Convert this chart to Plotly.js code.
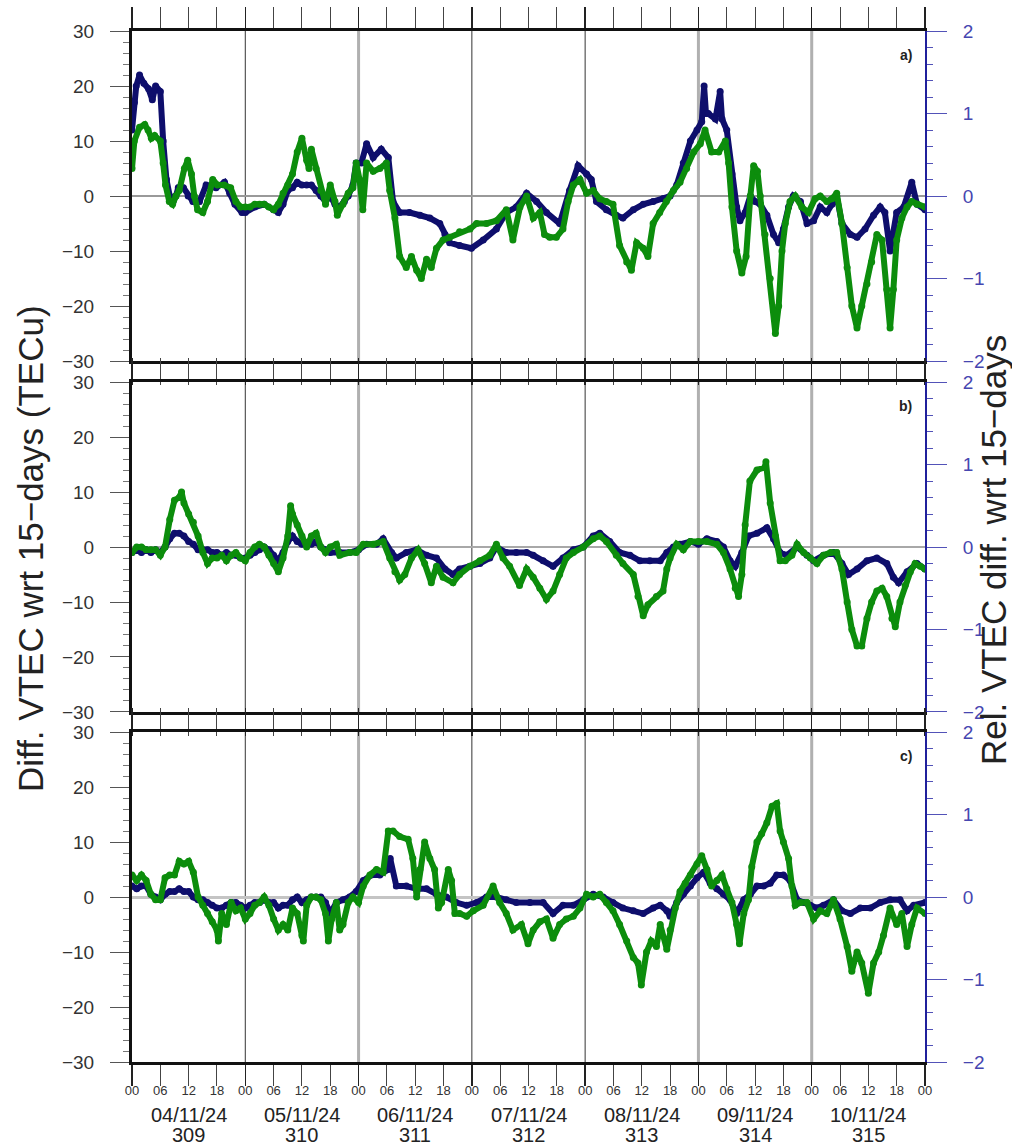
<!DOCTYPE html>
<html>
<head>
<meta charset="utf-8">
<script src="https://cdn.plot.ly/plotly-3.0.1.min.js"></script>
<style>
html,body{margin:0;padding:0;background:#fff;}
#chart{width:1012px;height:1147px;}
</style>
</head>
<body>
<div id="chart"></div>
<script>
// ---- categories / tick labels ----
const dayDates = ['04/11/24','05/11/24','06/11/24','07/11/24','08/11/24','09/11/24','10/11/24'];
const dayNumbers = ['309','310','311','312','313','314','315'];
const hourLabels = ['00','06','12','18'];
const panelLabels = ['a)','b)','c)'];

// ---- panel a ----
const aNavyHours = [0,0.5,0.9,1.6,2.5,3.5,4.3,5,6,6.6,7.3,8,8.7,9.3,9.8,10.9,11.9,12.9,14.3,15.7,17.8,19.6,20.7,21.8,23.3,
 24,26,28,30,31,32,33,34,35,36,37,38,39,40,41,42,43,44,45,45.8,46.8,47.5,48.6,49.7,51.1,52.8,54.3,55.3,56.7,58.8,61,63.1,65.2,66.3,67.3,69.4,71.9,74.4,77.2,79.3,81.4,83.6,85.7,87.8,90.6,92.7,94.5,96.3,97.3,98.4,100.5,102.6,104,106.2,108.3,110.4,112.5,114,115.4,116.8,118.3,119.7,120.7,121.2,121.6,122.1,123.6,124.6,125,126,127.1,128.1,128.8,129.9,131,132,133.1,134.5,135.9,137,138,139.1,140.1,141.6,143,144.4,145.8,147.2,148.3,149.3,150.4,152.2,153.6,155.3,157.1,158.5,159.5,160.6,162,163.5,165.2,166.3,168];
const aNavyTEC = [12,17,20,22,20.5,19.5,17.5,20,19,10,3,0,-1,0,1.5,1.5,0,-1,-1,2,1.5,2.5,0.5,-1.5,-3,
 -3,-2,-1.5,-2.5,-3,-1.5,1,1.5,2.5,2,2,2,1,0,-1,0,-1.5,-2,-1,0,2,6,6,9.5,7,8.5,7,-1,-3,-3,-3.5,-4,-5,-7,-8.5,-9,-9.5,-8,-6,-3,-2,0.5,-1,-3,-5,1,5.5,4,3,-1,-2.5,-3.5,-4,-2.5,-1.5,-1,-0.5,0,2,6,10,12,13.5,20,15,15,14,19,14,12,4,-2,-4.5,-3,0,-1,-1.5,-3.5,-7,-8.5,-6,-2,0,-1,-5,-4.5,-2,-3,-1.5,0,-5,-7,-7.5,-6,-3.5,-2,-3,-10,-3,-2,2.5,-1.5,-2.5];
const aGreenHours = [0,0.5,1.6,2.7,3.4,4.1,4.8,6,6.6,7.1,7.9,8.6,9.3,10,11.1,11.8,12.6,13.2,13.9,15,16,17.1,18.1,19.5,20.9,22,23,
 24,25,26,27,28,29,30,31,32,33,34,35,36,37,37.5,38,39,40,41,42,43,43.5,44.7,45.8,46.8,47.5,48.2,48.9,49.7,51.1,52.5,53.9,54.6,55.7,56.7,58.1,59.2,60.3,61.3,62.4,63.4,64.5,65.9,67.3,69.4,71.6,73,75.1,77.2,79.3,80.7,82.2,83.6,85,86.4,87.4,88.5,89.9,91.3,92.4,93.5,94.9,96.3,97.7,99.1,100.5,101.9,103.3,104.8,105.8,106.9,108.3,109.3,110.4,111.8,113.2,114.7,116.1,117.5,119,120.4,121.4,122.8,124.3,125.7,126.4,127.1,128.1,129.2,130.1,131,131.7,132.5,133.1,134.1,135.2,136.3,137,137.7,138.4,139.4,140.5,141.9,143.3,144.7,145.8,147.2,148.3,149.3,150.4,151.5,152.5,153.6,154.6,155.7,156.7,157.8,158.9,159.9,160.6,161.3,162,163.1,164.2,165.2,166.3,168];
const aGreenTEC = [5,10,12.5,13,12,10.5,11,10,6,2,-1,-1.5,0,1,5,6.5,4,0,-2.5,-3,-1,3,2,2,1.5,-1,-2,
 -2,-2,-1.5,-1.5,-1.5,-2,-2.5,-1.5,0.5,2,4,8,10.5,6.5,5,8.5,5,1,-1.5,2,-1,-3.5,-1.5,0.5,1.5,6,3,-2.5,6,4.5,5,6,1,-4,-11,-13,-11,-13.5,-15,-11.5,-13,-9.5,-8,-7.5,-6.5,-6,-5,-5,-4.5,-2.5,-8,-2,0,-4,-3,-7,-7.5,-7.5,-6,-1,2,3,0.5,1,-0.5,-1,-1.5,-9,-12,-13.5,-8.5,-9.5,-11,-5,-3,-1,1,2.5,5,8,9.5,12,8,8,10,6,-2,-10,-14,-11,0,5.5,4.5,0,-7,-15,-25,-20,-10,-5,-1,0,-2,-3,-0.5,0,-1,-0.5,0.5,-5,-13,-20,-24,-20,-16,-12,-7,-8,-17,-24,-17,-8,-4,-2,-1,-1.5,-2];

// ---- panel b ----
const bNavyHours = [0,1,2,3,4,5,6,7,8,9,10,11,12,13,14,15,16,17,18,19,20,21,22,23,24,25,26,27,28,29,30,31,32,33,34,35,36,37,38,39,40,41,42,44,46.1,48,49.7,51.8,53.2,55,56,58.1,60.3,62.4,64.5,66.3,68,69.4,71.6,73.7,75.8,77.2,79.3,81.4,83.6,85,87.1,89.2,91.3,93.5,95.6,97.7,99.1,101.2,103.3,105.5,107.6,109.7,111.9,113.3,114.7,116.1,118.3,120,121.8,123.9,125.3,126.7,127.8,129.2,130.6,132.4,134.5,135.9,137.3,138.7,140.9,143,144.4,146.5,148.6,150.4,151.8,153.6,155.7,157.8,159.9,161.3,162.4,164.2,166.3,168];
const bNavyTEC = [-1,-0.5,-1,-0.5,-1,-0.5,-1,0,1.5,2.5,2.5,2,1,0.5,-0.5,-0.5,-0.5,-1,-1,-1.5,-1,-1.5,-1.5,-2,-2,-1.5,-1,-0.5,0,-0.5,-1.5,-2.5,-1,1,2,1,0.5,0.5,0.5,1,0,-0.5,-1,-1,-1,-0.5,0.5,0.5,1.5,-1,-2,-1,-0.5,-1.5,-2,-4,-5,-4,-3.5,-3,-2,0,-1,-1,-1,-1.5,-2.5,-3.5,-2,-0.5,0,2,2.5,1,-1,-1.5,-2.5,-2.5,-2.5,-1,0,0.5,1,0.5,1.5,1,0,-2.5,-3.5,-1,2,2.5,3.5,1.5,-1,-1.5,0,-1.5,-2.5,-1.5,-1,-3,-5,-4,-2.5,-2,-3,-5.5,-6.5,-4.5,-3,-4];
const bGreenHours = [0,1,2,3,4,5,6,7,8,9,10,10.5,11,12,13,14,15,16,17,18,19,20,21,22,23,24,25,26,27,28,29,30,31,32,33,33.6,34,35,36,37,38,39,40,41,42,43.3,44,46.1,47.5,49,51.1,53.2,54.6,55.7,56.7,57.8,59.2,60.6,62,63.4,64.5,65.9,68,69.4,71.6,73.7,75.8,77.2,78.6,80,82.1,83.6,85,86.4,87.8,89.2,90.6,92,93.5,95.6,97.7,99.1,100.5,102.6,104,106.2,107.2,108.3,109.3,111.1,112.5,113.3,114,115.4,116.8,118.3,120,121.8,123.9,125.3,126.7,127.8,128.5,129.2,129.9,130.9,132.4,134.1,134.3,135.2,136.3,137.3,138.4,139.8,140.9,142.3,143.7,145.1,146.5,148,149.3,150.4,151.5,152.5,153.6,154.6,155.7,156.7,157.8,158.9,159.9,161,161.7,162.7,163.8,164.9,165.9,167,168];
const bGreenTEC = [-1,0,0,-0.5,-0.5,-0.5,-1.5,0,5,8.5,9,10,8,6,4.5,2,-1,-3,-2,-2,-1.5,-2.5,-1.5,-1,-2,-2.5,-1,0,0.5,0,-1.5,-3,-4.5,-2,2,7.5,6,4,2,0,2,2.5,0,-1,0,0.5,-1.5,-1,-1,0.5,0.5,1,-2,-4.5,-6,-5,-2,-0.5,-3,-6.5,-3.5,-5.5,-6.5,-5,-3.5,-2.5,-1.5,0.5,-2,-3.5,-7,-4,-5.5,-7.5,-9.5,-8,-5,-2,-1,0,1.5,2,1,-1.5,-3,-5,-9,-12.5,-10.5,-9,-8,-4,-2,0.5,-0.5,1,1,1,0.5,-1,-4,-7.5,-9,-5,4,12,14,14.5,15.5,8,2,-2.5,-2.5,-1.5,0.5,-1,-2,-3,-1.5,-1,-1,-4,-10,-15,-18,-18,-13,-10,-8,-7.5,-9,-13,-14.5,-10,-7,-4.5,-3,-3.5,-4];

// ---- panel c ----
const cNavyHours = [0,1,2,3,4,5,6,7,8,9,10,11,12,13,14,15,16,17,18,19,20,21,22,23,24,25,26,27,28,29,30,31,32,33,34,35,36,37,38,39,40,41,42,43.3,44.7,46.1,47.5,49,50.7,52.5,54.3,54.7,56,58.1,60.3,62.4,64.5,66.6,68.7,70.9,73,75.1,77.2,79.3,81.4,84.3,87.1,89.2,91.3,93.5,95.6,97.7,99.8,101.9,104,106.2,108.3,110.4,111.9,113.3,114,115.4,116.8,118.3,119.7,121.1,122.5,123.9,125.3,126.7,128.1,129.6,131,132.4,133.8,135.2,136.6,138,139.4,140.9,142.3,143.7,145.1,146.5,148.6,150.4,152.2,154.3,156.4,158.5,160.6,162.7,164.2,165.6,168];
const cNavyTEC = [2,1.5,2,2,0.5,0,-0.5,0.5,1,1,1.5,1,1,0,-0.5,-0.5,-1,-1.5,-2,-2,-1.5,-1,-1,-1.5,-2,-1.5,-1,-1,-0.5,-1,-1,-2,-1.5,-1.5,-0.5,0,-1,-0.5,0,0,0,-1,-3,-1,-0.5,0,1,3,4,4,5,7,2,2,1.5,1.5,0.5,0,-1,-1.5,-1,0,0,-0.5,-1,-1,-1,-3,-1.5,-1.5,-0.5,0.5,0,-1,-2,-2.5,-3,-2,-1.5,-2.5,-3.5,-1,0.5,2,3.5,4.5,2.5,1.5,0.5,-0.5,-3,-0.5,0.5,2,2,2.5,4,4,3,-0.5,-1,-1.5,-2,-1.5,-0.5,-2.5,-3,-2,-2,-1,-0.5,-0.5,-2.5,-1.5,-1];
const cGreenHours = [0,1,2,3,4,5,6,7,8,9,10,11,12,13,14,15,16,17,18,18.3,19,20,21,22,23,24,25,26,27,28,29,30,31,32,33,34,35,36,36.3,37,38,39,40,41,41.6,42.3,43.3,44,44.7,45.8,46.8,48,49,50.4,51.8,53.2,54.3,55.3,56.7,58.5,59.5,60.3,61,62,63.1,64.1,64.9,65.6,67,67.7,68.4,69.4,70.9,72.3,74.4,76.5,77.9,79.3,80.7,82.5,83.9,85,86.4,87.8,89.2,90.6,92,93.5,94.9,96.3,97.7,99.1,100.5,101.9,103.3,104.8,106.2,107.2,107.9,109,110,111.1,111.9,113.3,114,115.1,116.1,117.2,118.3,119.7,120.7,121.8,122.8,123.9,125,126,127.1,128.1,128.7,129.6,130.6,131.3,132.4,133.4,134.5,135.6,136.6,137.3,138,139.1,139.8,140.5,141.6,143,144.4,145.8,147.2,148.6,150,151.5,152.5,153.6,154.6,156,157.1,158.2,159.2,160.6,162,163.1,164.2,165.2,166.3,168];
const cGreenTEC = [4,3,4,3,0.5,-0.5,-0.5,3.5,4,4,6.5,6,6.5,4.5,0,-1.5,-3,-4.5,-6,-8,-3,-5,-1,-2.5,-2,-4,-3,-1.5,-1,0,-1.5,-4,-6,-5,-6,-2,-3,-7,-8,-1.5,0,0,-0.5,-3,-8,-4,-1,-6,-5,-1,0,-1,2,4,5,4.5,12,12,11,10.5,7,0,5,10,7,5,-2,-1,5,3,-3,-3,-3.5,-2.5,-1.5,2,-1,-3,-6,-5,-8.5,-6,-4.5,-4,-7.5,-5,-4,-3.5,-2,0.5,0,0.5,-1,-2.5,-5,-8,-11,-12,-16,-10,-8,-9,-5,-9.5,-6,-2,1,2.5,4,6,7.5,5,2,3,4,1.5,-1,-5,-8.5,-3,-0.5,5.5,10,11.5,13.5,16.5,17,12,10,7,2,-1.5,-1,-1,-4,-2.5,-3,-0.5,-4,-9,-13.5,-10,-12,-17.5,-12,-10,-7,-2,-5,-3,-9,-5,-2,-3];

// ---- styling ----
const NAVY = '#0e0e6c';
const GREEN = '#0c8d0c';
const FONT = 'Liberation Sans, Arial, Helvetica, sans-serif';
const dayBounds = [0,24,48,72,96,120,144,168];
const innerDayStyle = [null,'dark','grey','dark','dark','grey','grey',null];

const panels = [
  {navyT:aNavyHours, navyV:aNavyTEC, greenT:aGreenHours, greenV:aGreenTEC, zc:'#999999', zw:1.5},
  {navyT:bNavyHours, navyV:bNavyTEC, greenT:bGreenHours, greenV:bGreenTEC, zc:'#a8a8a8', zw:2},
  {navyT:cNavyHours, navyV:cNavyTEC, greenT:cGreenHours, greenV:cGreenTEC, zc:'#c4c4c4', zw:3}
];
const domains = [[0.6799,1],[0.3395,0.6595],[0,0.32]];

const traces = [];
const layout = {
  width:1012, height:1147,
  margin:{l:132, r:87, t:31, b:85},
  paper_bgcolor:'#fff', plot_bgcolor:'#fff',
  showlegend:false,
  font:{family:FONT, color:'#333'},
  shapes:[], annotations:[]
};

panels.forEach((p, i) => {
  const n = i + 1;
  const xs = n === 1 ? '' : String(n);
  const xa = 'x' + xs, ya = 'y' + xs;
  traces.push({x:p.navyT, y:p.navyV, xaxis:xa, yaxis:ya, type:'scatter', mode:'lines+markers',
    line:{color:NAVY, width:6}, marker:{color:NAVY, size:7}, hoverinfo:'skip'});
  traces.push({x:p.greenT, y:p.greenV, xaxis:xa, yaxis:ya, type:'scatter', mode:'lines+markers',
    line:{color:GREEN, width:6}, marker:{color:GREEN, size:7}, hoverinfo:'skip'});

  layout['xaxis' + xs] = {
    domain:[0,1], anchor:ya, range:[0,168], showgrid:false, zeroline:false,
    showline:true, linecolor:'#111', linewidth:3, mirror:'allticks',
    tickmode:'array', tickvals:dayBounds, ticks:'outside', ticklen:21, tickwidth:1.5, tickcolor:'#222',
    minor:{dtick:6, tick0:0, ticks:'outside', ticklen:8, tickwidth:1, tickcolor:'#444'},
    showticklabels:false, fixedrange:true
  };
  layout['yaxis' + xs] = {
    domain:domains[i], anchor:xa, range:[-30,30], showgrid:false,
    zeroline:true, zerolinecolor:p.zc, zerolinewidth:p.zw,
    showline:true, linecolor:'#111', linewidth:3, mirror:false,
    tickmode:'array', tickvals:[-30,-20,-10,0,10,20,30], ticks:'outside', ticklen:19, tickwidth:1, tickcolor:'#555',
    minor:{dtick:2, ticks:'outside', ticklen:6, tickwidth:1, tickcolor:'#777'},
    tickfont:{size:19, color:'#333', family:FONT}, ticklabelstandoff:12, fixedrange:true
  };
  // right relative axis
  const rs = String(n + 3);
  layout['yaxis' + rs] = {
    overlaying:ya, anchor:xa, side:'right', range:[-2,2], showgrid:false, zeroline:false,
    showline:true, linecolor:'#20209c', linewidth:2,
    tickmode:'array', tickvals:[-2,-1,0,1,2], ticks:'outside', ticklen:20, tickwidth:1, tickcolor:'#5252b8',
    minor:{dtick:0.2, ticks:'outside', ticklen:6, tickwidth:1, tickcolor:'#5252b8'},
    tickfont:{size:19, color:'#4646b0', family:FONT}, ticklabelstandoff:12, fixedrange:true
  };
  traces.push({x:[0], y:[0], xaxis:xa, yaxis:'y' + rs, type:'scatter', mode:'markers',
    marker:{opacity:0}, hoverinfo:'skip'});

  // inner day boundary lines
  dayBounds.forEach((d, k) => {
    const s = innerDayStyle[k];
    if (!s) return;
    layout.shapes.push({type:'line', xref:xa, yref:ya + ' domain', x0:d, x1:d, y0:0, y1:1,
      line:{color: s === 'grey' ? 'rgba(150,150,150,0.75)' : '#333', width: s === 'grey' ? 3 : 1},
      layer:'below'});
  });

  layout.annotations.push({xref:xa + ' domain', yref:ya + ' domain', x:0.986, y:0.927,
    xanchor:'right', yanchor:'middle',
    text:'<b>' + panelLabels[i] + '</b>', showarrow:false, font:{size:14, color:'#222', family:FONT}});
});

// hour labels on an overlay axis under the bottom panel
const hourVals = [], hourText = [];
dayBounds.slice(0, 7).forEach(d => hourLabels.forEach((lab, k) => { hourVals.push(d + 6 * k); hourText.push(lab); }));
hourVals.push(168); hourText.push(hourLabels[0]);
layout.xaxis4 = {
  overlaying:'x3', anchor:'y3', side:'bottom', range:[0,168], showgrid:false, zeroline:false, showline:false,
  tickmode:'array', tickvals:hourVals, ticktext:hourText, ticks:'outside', ticklen:16, tickcolor:'rgba(0,0,0,0)',
  tickfont:{size:13, color:'#333', family:FONT}, fixedrange:true
};
traces.push({x:[0], y:[0], xaxis:'x4', yaxis:'y3', type:'scatter', mode:'markers', marker:{opacity:0}, hoverinfo:'skip'});

// date / day-of-year labels
dayDates.forEach((dt, k) => {
  const mid = dayBounds[k] + 12;
  layout.annotations.push({xref:'x3', yref:'paper', x:mid, y:(1062 - 1115) / 1031, yanchor:'middle',
    text:dt, showarrow:false, borderpad:0, font:{size:20, color:'#222', family:FONT}});
  layout.annotations.push({xref:'x3', yref:'paper', x:mid, y:(1062 - 1135) / 1031, yanchor:'middle',
    text:dayNumbers[k], showarrow:false, borderpad:0, font:{size:20, color:'#222', family:FONT}});
});

// axis titles
layout.annotations.push({xref:'paper', yref:'paper', x:(30 - 132) / 793, y:(1062 - 549) / 1031,
  xanchor:'center', yanchor:'middle', textangle:-90,
  text:'Diff. VTEC wrt 15\u2212days (TECu)', showarrow:false, font:{size:35, color:'#222', family:FONT}});
layout.annotations.push({xref:'paper', yref:'paper', x:(993 - 132) / 793, y:(1062 - 550) / 1031,
  xanchor:'center', yanchor:'middle', textangle:-90,
  text:'Rel. VTEC diff. wrt 15\u2212days', showarrow:false, font:{size:35, color:'#222', family:FONT}});

Plotly.newPlot('chart', traces, layout, {staticPlot:true, displayModeBar:false});
</script>
</body>
</html>
